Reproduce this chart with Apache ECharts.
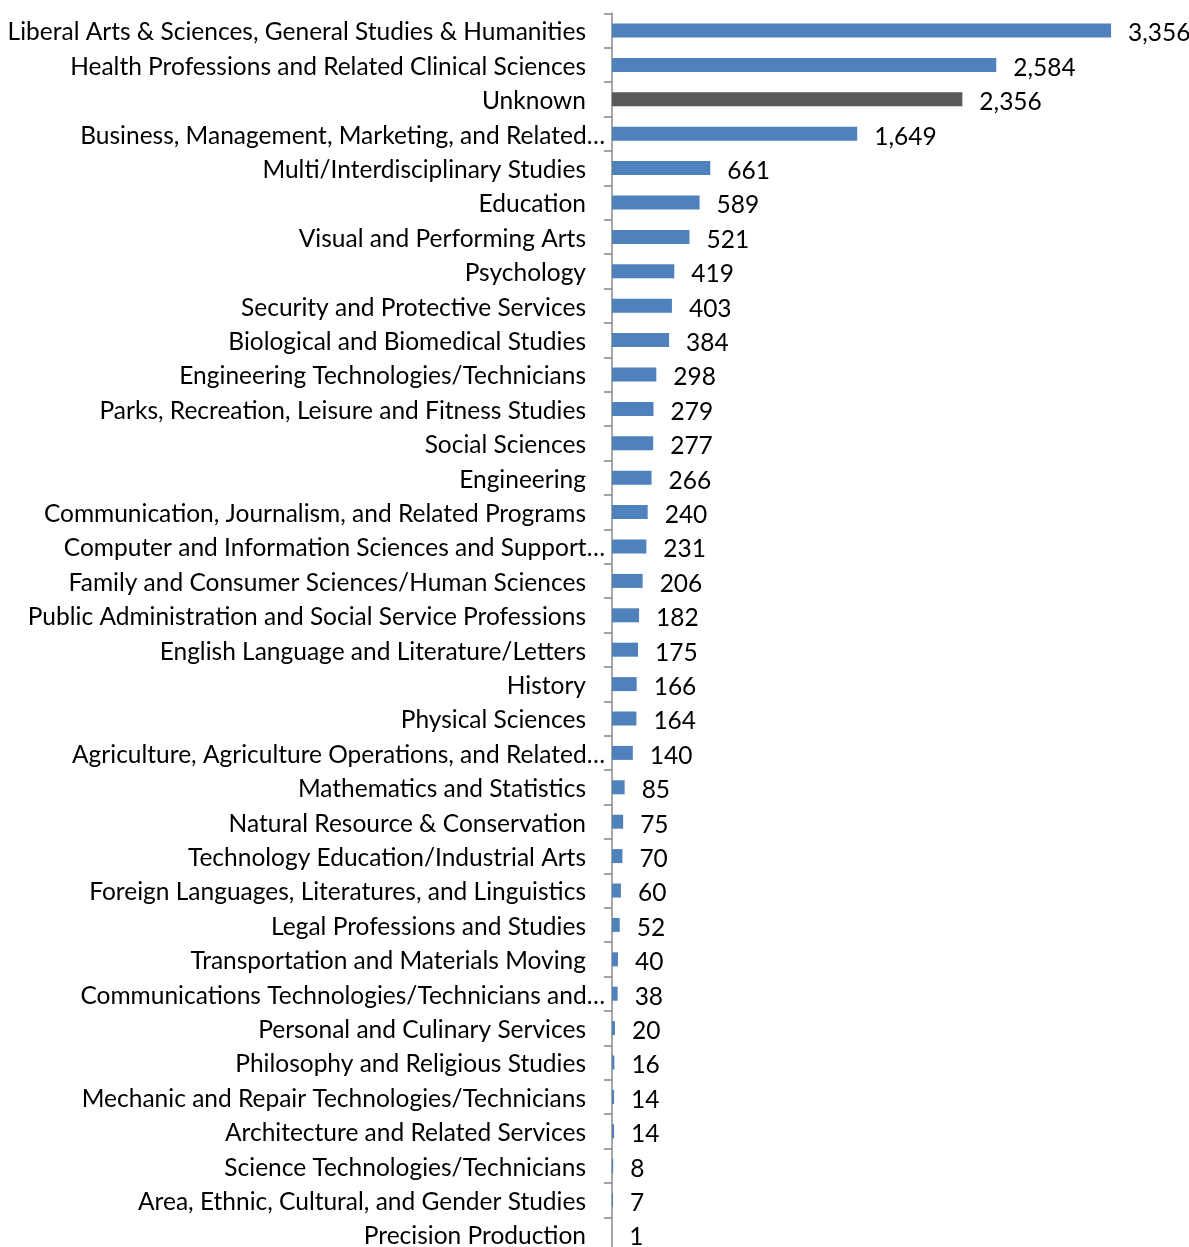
<!DOCTYPE html>
<html><head><meta charset="utf-8">
<script src="https://cdn.jsdelivr.net/npm/echarts@6/dist/echarts.min.js"></script>
<style>html,body{margin:0;padding:0;background:#fff;overflow:hidden}#c{width:1189px;height:1252px}</style>
</head><body><div id="c"></div>
<script>
const categories = [
"Liberal Arts & Sciences, General Studies & Humanities",
"Health Professions and Related Clinical Sciences",
"Unknown",
"Business, Management, Marketing, and Related…",
"Multi/Interdisciplinary Studies",
"Education",
"Visual and Performing Arts",
"Psychology",
"Security and Protective Services",
"Biological and Biomedical Studies",
"Engineering Technologies/Technicians",
"Parks, Recreation, Leisure and Fitness Studies",
"Social Sciences",
"Engineering",
"Communication, Journalism, and Related Programs",
"Computer and Information Sciences and Support…",
"Family and Consumer Sciences/Human Sciences",
"Public Administration and Social Service Professions",
"English Language and Literature/Letters",
"History",
"Physical Sciences",
"Agriculture, Agriculture Operations, and Related…",
"Mathematics and Statistics",
"Natural Resource & Conservation",
"Technology Education/Industrial Arts",
"Foreign Languages, Literatures, and Linguistics",
"Legal Professions and Studies",
"Transportation and Materials Moving",
"Communications Technologies/Technicians and…",
"Personal and Culinary Services",
"Philosophy and Religious Studies",
"Mechanic and Repair Technologies/Technicians",
"Architecture and Related Services",
"Science Technologies/Technicians",
"Area, Ethnic, Cultural, and Gender Studies",
"Precision Production"
];
const values = [3356,2584,2356,1649,661,589,521,419,403,384,298,279,277,266,240,231,206,182,175,166,164,140,85,75,70,60,52,40,38,20,16,14,14,8,7,1];
const highlight = "Unknown";

const FONT = 'Lato, "Open Sans", sans-serif';
const FS = 24.5;
const chart = echarts.init(document.getElementById('c'));
chart.setOption({
  animation:false,
  grid:{left:612, right:0, top:13.3, bottom:0.3, containLabel:false},
  xAxis:{type:'value', min:0, max:3880, show:false},
  yAxis:{type:'category', inverse:true, data:categories,
    axisLine:{show:true, lineStyle:{color:'#888888', width:1.5}},
    axisTick:{show:true, length:8, lineStyle:{color:'#888888', width:1.5}},
    axisLabel:{margin:7, color:'#000', fontFamily:FONT, fontSize:FS,
      formatter:function(v){ return v.endsWith('…') ? '{e|'+v+'}' : '{n|'+v+'}'; },
      rich:{n:{fontFamily:FONT, fontSize:FS, color:'#000', padding:[4,19,0,0]},
            e:{fontFamily:FONT, fontSize:FS, color:'#000', padding:[4,0,0,0]}}
    },
    splitLine:{show:false}
  },
  series:[{type:'bar', barWidth:14,
    data:values.map((v,i)=>({value:v, itemStyle:{color: categories[i]===highlight ? '#595959' : '#4F81BD'}})),
    label:{show:true, position:'right', distance:17, color:'#000', fontFamily:FONT, fontSize:FS, offset:[0,3],
      formatter:p=>p.value.toLocaleString('en-US')}
  }]
});
</script></body></html>
